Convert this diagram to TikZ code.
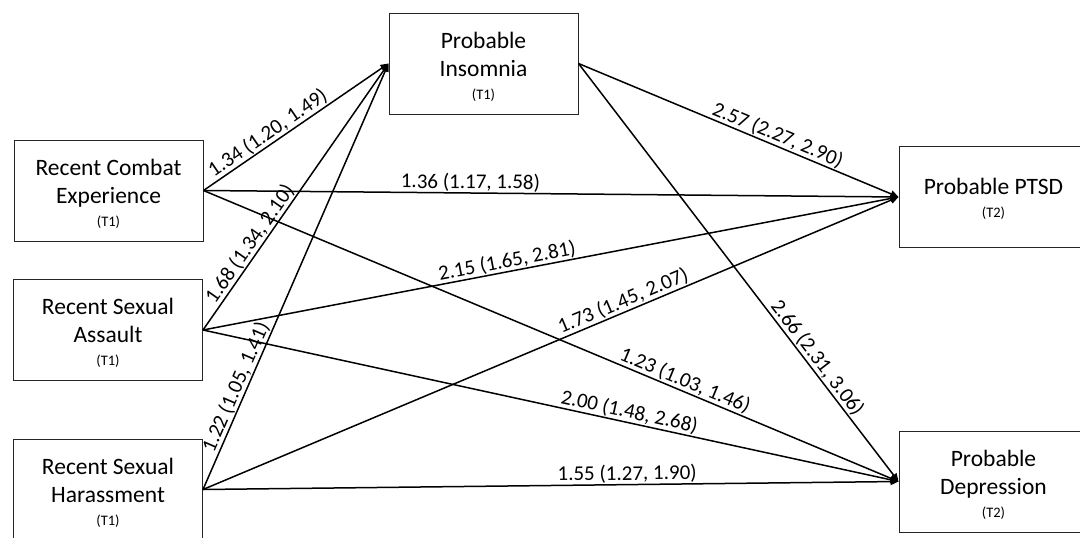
\documentclass[tikz,border=0pt]{standalone}
\usepackage{fontspec}
\setmainfont{Carlito}
\usetikzlibrary{arrows.meta}
\newcommand{\boxtext}[3]{\raisebox{-4.5pt}[\height][\depth]{\begin{tabular}{@{}c@{}}#1\\#2\\[-5pt]{\fontsize{14.5}{16}\selectfont #3}\end{tabular}}}
\begin{document}
\begin{tikzpicture}[x=1pt,y=-1pt,
  box/.style={draw=black!85, line width=1pt, minimum width=189pt, minimum height=101pt,
    inner sep=0pt, align=center, font=\fontsize{23.5}{28}\selectfont},
  link/.style={draw, line width=1.5pt, -{Triangle[length=8pt,width=7pt]}},
  lab/.style={sloped, above, inner sep=0.8pt, font=\fontsize{21}{24}\selectfont}]
\useasboundingbox (0,0) rectangle (1080,538);
\fill[white] (0,0) rectangle (1080,538);
\node[box] (combat) at (108.5,190.5) {\boxtext{Recent Combat}{Experience}{(T1)}};
\node[box] (assault) at (108,330) {\boxtext{Recent Sexual}{Assault}{(T1)}};
\node[box] (harass) at (108,489.5) {\boxtext{Recent Sexual}{Harassment}{(T1)}};
\node[box] (insom) at (483.5,63.5) {\boxtext{Probable}{Insomnia}{(T1)}};
\node[box] (ptsd) at (993.5,197) {\raisebox{-3pt}[\height][\depth]{\begin{tabular}{@{}c@{}}Probable PTSD\\[-5pt]{\fontsize{14.5}{16}\selectfont (T2)}\end{tabular}}};
\node[box] (dep) at (993.5,481.5) {\boxtext{Probable}{Depression}{(T2)}};

\draw[link] (combat.east) -- node[lab, pos=0.38] {1.34 (1.20, 1.49)} (insom.west);
\draw[link] (combat.east) -- node[lab, pos=0.384] {1.36 (1.17, 1.58)} (ptsd.west);
\draw[link] (combat.east) -- node[lab, pos=0.687] {1.23 (1.03, 1.46)} (dep.west);
\draw[link] (assault.east) -- node[lab, pos=0.3] {1.68 (1.34, 2.10)} (insom.west);
\draw[link] (assault.east) -- node[lab, pos=0.44] {2.15 (1.65, 2.81)} (ptsd.west);
\draw[link] (assault.east) -- node[lab, pos=0.61] {2.00 (1.48, 2.68)} (dep.west);
\draw[link] (harass.east) -- node[lab, pos=0.23] {1.22 (1.05, 1.41)} (insom.west);
\draw[link] (harass.east) -- node[lab, pos=0.61] {1.73 (1.45, 2.07)} (ptsd.west);
\draw[link] (harass.east) -- node[lab, pos=0.61] {1.55 (1.27, 1.90)} (dep.west);
\draw[link] (insom.east) -- node[lab, pos=0.61] {2.57 (2.27, 2.90)} (ptsd.west);
\draw[link] (insom.east) -- node[lab, pos=0.72] {2.66 (2.31, 3.06)} (dep.west);
\end{tikzpicture}
\end{document}
